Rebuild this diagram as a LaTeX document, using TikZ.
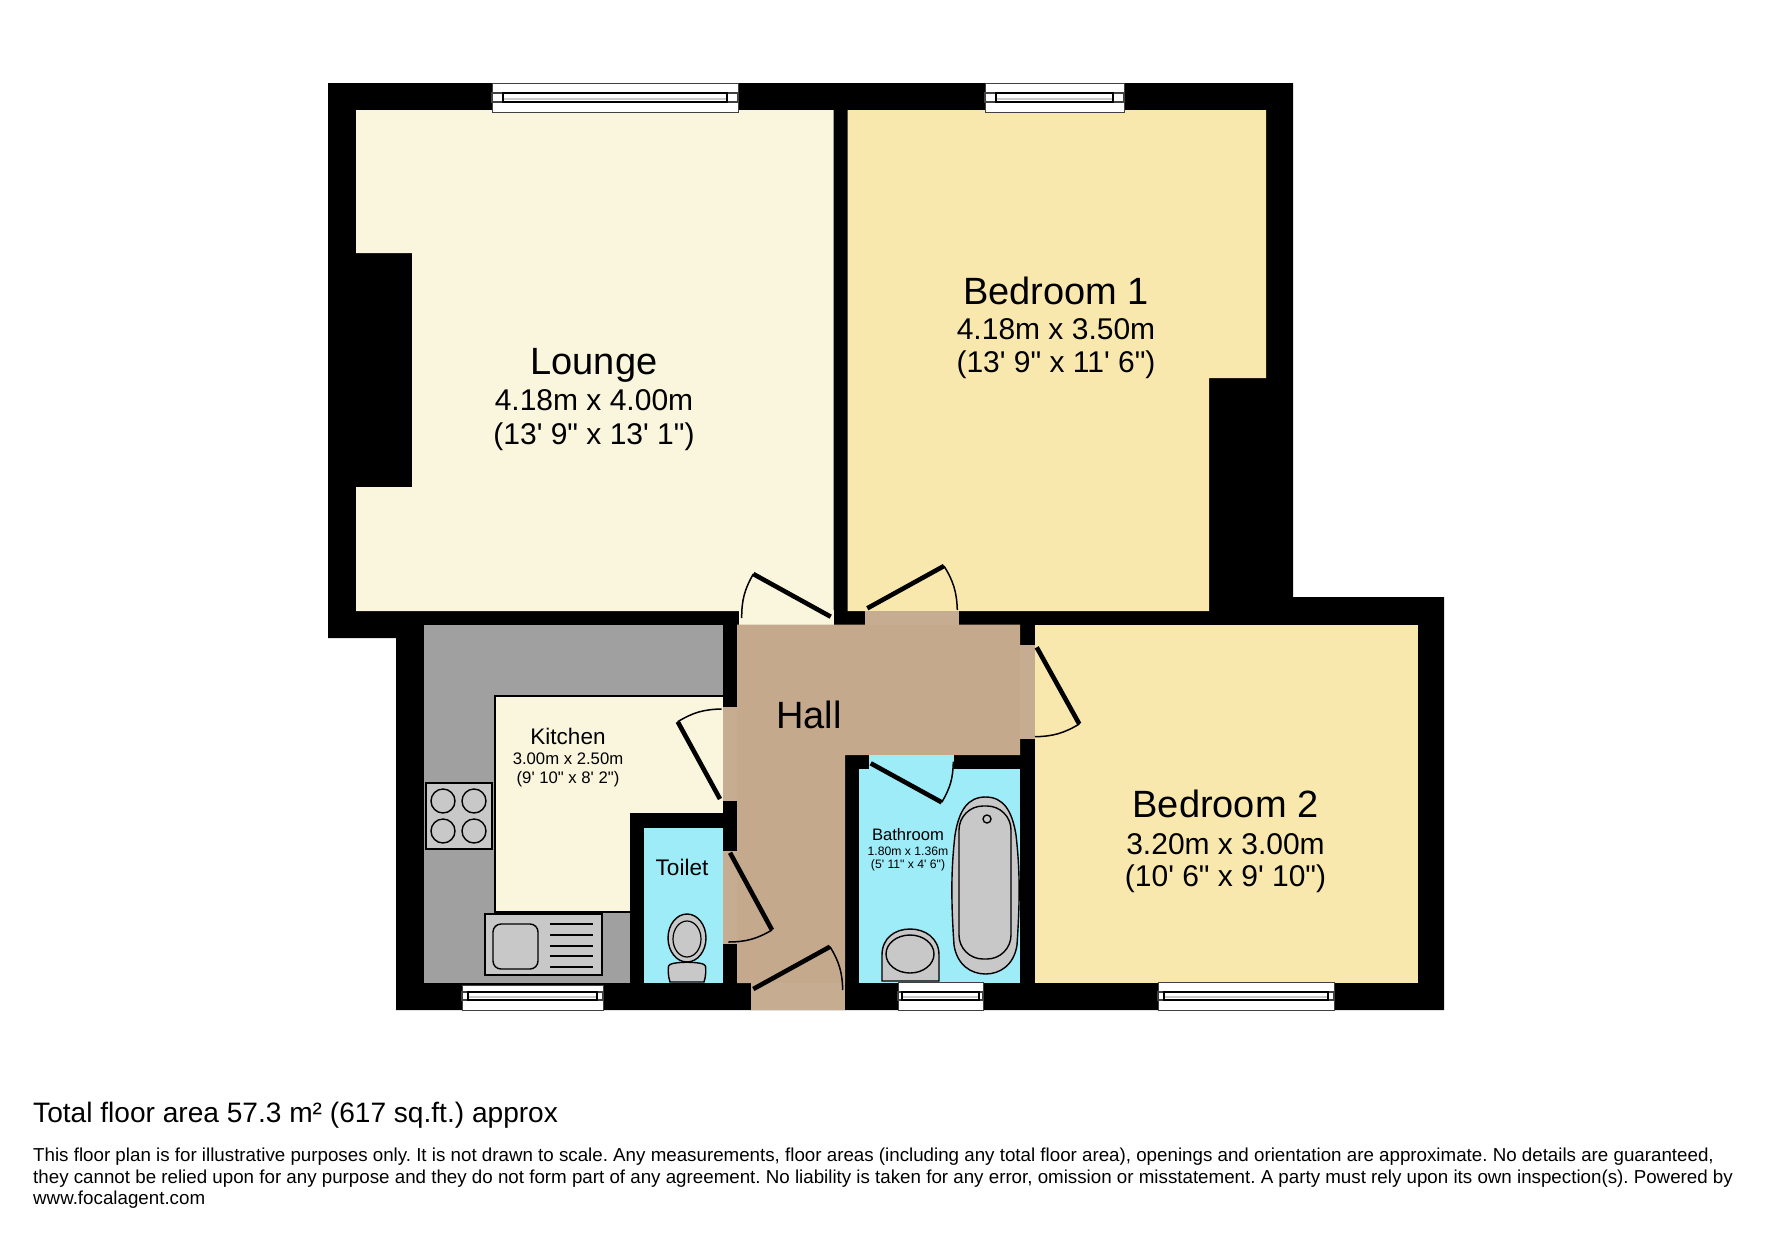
\documentclass[tikz,border=0pt]{standalone}
\usepackage{fontspec}
\newfontfamily\lib{Liberation Sans}
\definecolor{lounge}{HTML}{FAF5DD}
\definecolor{bed}{HTML}{F9E8AE}
\definecolor{hall}{HTML}{C4A98C}
\definecolor{sill}{HTML}{C6AC90}
\definecolor{wet}{HTML}{9EECF8}
\definecolor{counter}{HTML}{A0A0A0}
\definecolor{fixture}{HTML}{C8C8C8}
\newcommand{\fs}[1]{\lib\frenchspacing\fontsize{#1}{#1}\selectfont}
\newcommand{\winbox}[7]{%
  \draw[winline,fill=white] (#1,#2) rectangle (#3,#4);
  \draw[winline,line width=1.2pt] (#1,#6) rectangle (#1+#5,#7);
  \draw[winline,line width=1.2pt] (#3-#5,#6) rectangle (#3,#7);
  \draw[line width=1.3pt,fill=white] (#1+#5,#6) rectangle (#3-#5,#7);
  \draw[line width=2pt,draw=fixture] (#1+#5+1,{(#6+#7)/2+1}) -- (#3-#5-1,{(#6+#7)/2+1});
}
\tikzset{
  winline/.style={draw=black!75,line width=1pt},
  leaf/.style={line width=4.6pt},
  swing/.style={line width=1.5pt},
  fix/.style={draw=black,line width=1.4pt,fill=fixture},
  big/.style={font=\fs{38}},
  dim/.style={font=\fs{30}},
  lab/.style={inner sep=0pt,anchor=center},
}
\begin{document}
\begin{tikzpicture}[x=1pt,y=-1pt]
\useasboundingbox (0,0) rectangle (1771,1239);
\fill[white] (0,0) rectangle (1771,1239);
% walls
\fill[black] (328,83) -- (1293,83) -- (1293,597) -- (1444,597) -- (1444,1010) -- (396,1010) -- (396,638) -- (328,638) -- cycle;
% lounge
\fill[lounge] (356,110) -- (833.5,110) -- (833.5,611) -- (356,611) -- (356,487) -- (412,487) -- (412,253) -- (356,253) -- cycle;
\fill[lounge] (739,610) rectangle (833.5,625);
% bedroom 1
\fill[bed] (847.5,110) -- (1266,110) -- (1266,378) -- (1209,378) -- (1209,611) -- (847.5,611) -- cycle;
% bedroom 2
\fill[bed] (1034.5,624.5) rectangle (1417.5,983);
% hall
\fill[hall] (737,624.5) -- (1020,624.5) -- (1020,755) -- (845,755) -- (845,983) -- (737,983) -- cycle;
\fill[sill] (865,611) rectangle (959,624.5);
\fill[sill] (1020,645) rectangle (1034.5,739);
\fill[sill] (722.5,707) rectangle (737,801);
\fill[sill] (722.5,851) rectangle (737,944);
\fill[sill] (751,983) rectangle (845,1010);
% kitchen
\fill[counter] (423.5,624.5) rectangle (722.5,983);
\fill[lounge] (495,696) rectangle (722.5,912);
\draw[line width=1.4pt] (722.5,696) -- (495,696) -- (495,912) -- (630,912);
\fill[black] (630,813) rectangle (722.5,983);
% toilet, bathroom
\fill[wet] (644,828) rectangle (722.5,983);
\fill[wet] (859,769) rectangle (1020,983);
\fill[wet] (869,755) rectangle (954,770);
% hob
\draw[fix] (426,783) rectangle (492,849);
\foreach \cx/\cy in {443/801,474/801,443/831,474/831}
  \draw[line width=1.4pt] (\cx,\cy) circle (12);
% sink
\draw[fix] (485,914) rectangle (602,975);
\draw[line width=1.4pt,rounded corners=8pt] (493,924) rectangle (538,969);
\foreach \ly in {924,935,946,956,967}
  \draw[line width=1.2pt] (550,\ly) -- (593,\ly);
% toilet pan
\draw[fix] (687,938) ellipse (19 and 24);
\draw[line width=1.2pt] (687,939) ellipse (14 and 18);
\draw[fix] (670,982) .. controls (668,976) and (668,970) .. (668.5,966) .. controls (669,961) and (705,961) .. (705.5,966) .. controls (706,970) and (706,976) .. (704,982) -- cycle;
% bath
\draw[fix] (985.5,797) .. controls (1003,797) and (1012,810) .. (1016,835) .. controls (1020,870) and (1020,900) .. (1017,945) .. controls (1014,965) and (1000,974) .. (985.5,974) .. controls (971,974) and (957,965) .. (954,945) .. controls (951,900) and (951,870) .. (955,835) .. controls (959,810) and (968,797) .. (985.5,797) -- cycle;
\draw[line width=1.4pt,rounded corners=24pt] (959,806) rectangle (1011,959);
\draw[line width=1.4pt] (987,819) circle (4);
% basin
\draw[fix] (882,981) -- (882,955) .. controls (882,938) and (895,929) .. (910,929) .. controls (925,929) and (939,938) .. (939,955) -- (939,981) -- cycle;
\draw[line width=1.4pt] (910,954) ellipse (24 and 19);
% windows
\winbox{492}{83}{738}{112}{11}{93}{102}
\winbox{985}{83}{1124}{112}{11}{93}{102}
\winbox{462}{985}{603}{1010}{6}{992}{1000}
\winbox{898}{982}{983}{1010}{4}{992}{1000}
\winbox{1158}{982}{1334}{1010}{6}{992}{1000}
% doors
\coordinate (la) at (830.7,616.7); \coordinate (lb) at (753.3,574); \coordinate (lc) at (741.7,618);
\draw[leaf] (la) -- (lb); \draw[swing] (lc) to[bend left=15] (lb);
\coordinate (ba) at (867.3,608.3); \coordinate (bb) at (944,566); \coordinate (bc) at (957.3,610);
\draw[leaf] (ba) -- (bb); \draw[swing] (bb) to[bend left=15] (bc);
\coordinate (ca) at (1036.7,647.3); \coordinate (cb) at (1079.3,724); \coordinate (cc) at (1035,736.7);
\draw[leaf] (ca) -- (cb); \draw[swing] (cb) to[bend left=15] (cc);
\coordinate (da) at (870.7,763.3); \coordinate (db) at (941.7,802.3); \coordinate (dc) at (953.3,761.7);
\draw[leaf] (da) -- (db); \draw[swing] (db) to[bend right=15] (dc);
\coordinate (ea) at (720,799); \coordinate (eb) at (677.7,721.7); \coordinate (ec) at (721.7,709);
\draw[leaf] (ea) -- (eb); \draw[swing] (eb) to[bend left=15] (ec);
\coordinate (fa) at (730,852.7); \coordinate (fb) at (772,930); \coordinate (fc) at (728.3,942);
\draw[leaf] (fa) -- (fb); \draw[swing] (fb) to[bend left=15] (fc);
\coordinate (ga) at (753.3,989); \coordinate (gb) at (830,946.7); \coordinate (gc) at (842.7,990);
\draw[leaf] (ga) -- (gb); \draw[swing] (gb) to[bend left=15] (gc);
% labels
\node[lab,big] (loungeT) at (594,365) {Lounge};
\node[lab,dim] (loungeA) at (594,400) {4.18m x 4.00m};
\node[lab,dim] (loungeB) at (594,437) {(13' 9" x 13' 1")};
\node[lab,big] (bedAT) at (1056,291) {Bedroom 1};
\node[lab,dim] (bedAA) at (1056,329) {4.18m x 3.50m};
\node[lab,dim] (bedAB) at (1056,365) {(13' 9" x 11' 6")};
\node[lab,big] (bedBT) at (1225.5,804) {Bedroom 2};
\node[lab,dim] (bedBA) at (1225.5,844) {3.20m x 3.00m};
\node[lab,dim] (bedBB) at (1225.5,879) {(10' 6" x 9' 10")};
\node[lab,big] (hallT) at (809,715) {Hall};
\node[lab,font=\fs{22.5}] (kitT) at (568,736) {Kitchen};
\node[lab,font=\fs{16.7}] (kitA) at (568,759) {3.00m x 2.50m};
\node[lab,font=\fs{16.7}] (kitB) at (568,779) {(9' 10" x 8' 2")};
\node[lab,font=\fs{22.6}] (toiT) at (682,867) {Toilet};
\node[lab,font=\fs{16.6}] (batT) at (908,834.5) {Bathroom};
\node[lab,font=\fs{12.2}] (batA) at (908,851) {1.80m x 1.36m};
\node[lab,font=\fs{12.2}] (batB) at (908,865) {(5' 11" x 4' 6")};
\node[inner sep=0pt,anchor=west,font=\fs{28.1}] (area) at (33,1115) {Total floor area 57.3 m² (617 sq.ft.) approx};
\node[inner sep=0pt,anchor=west,font=\fs{18.75}] (noteA) at (33,1157) {This floor plan is for illustrative purposes only. It is not drawn to scale. Any measurements, floor areas (including any total floor area), openings and orientation are approximate. No details are guaranteed,};
\node[inner sep=0pt,anchor=west,font=\fs{18.75}] (noteB) at (33,1179) {they cannot be relied upon for any purpose and they do not form part of any agreement. No liability is taken for any error, omission or misstatement. A party must rely upon its own inspection(s). Powered by};
\node[inner sep=0pt,anchor=west,font=\fs{18.75}] (noteC) at (33,1200) {www.focalagent.com};
\end{tikzpicture}
\end{document}
